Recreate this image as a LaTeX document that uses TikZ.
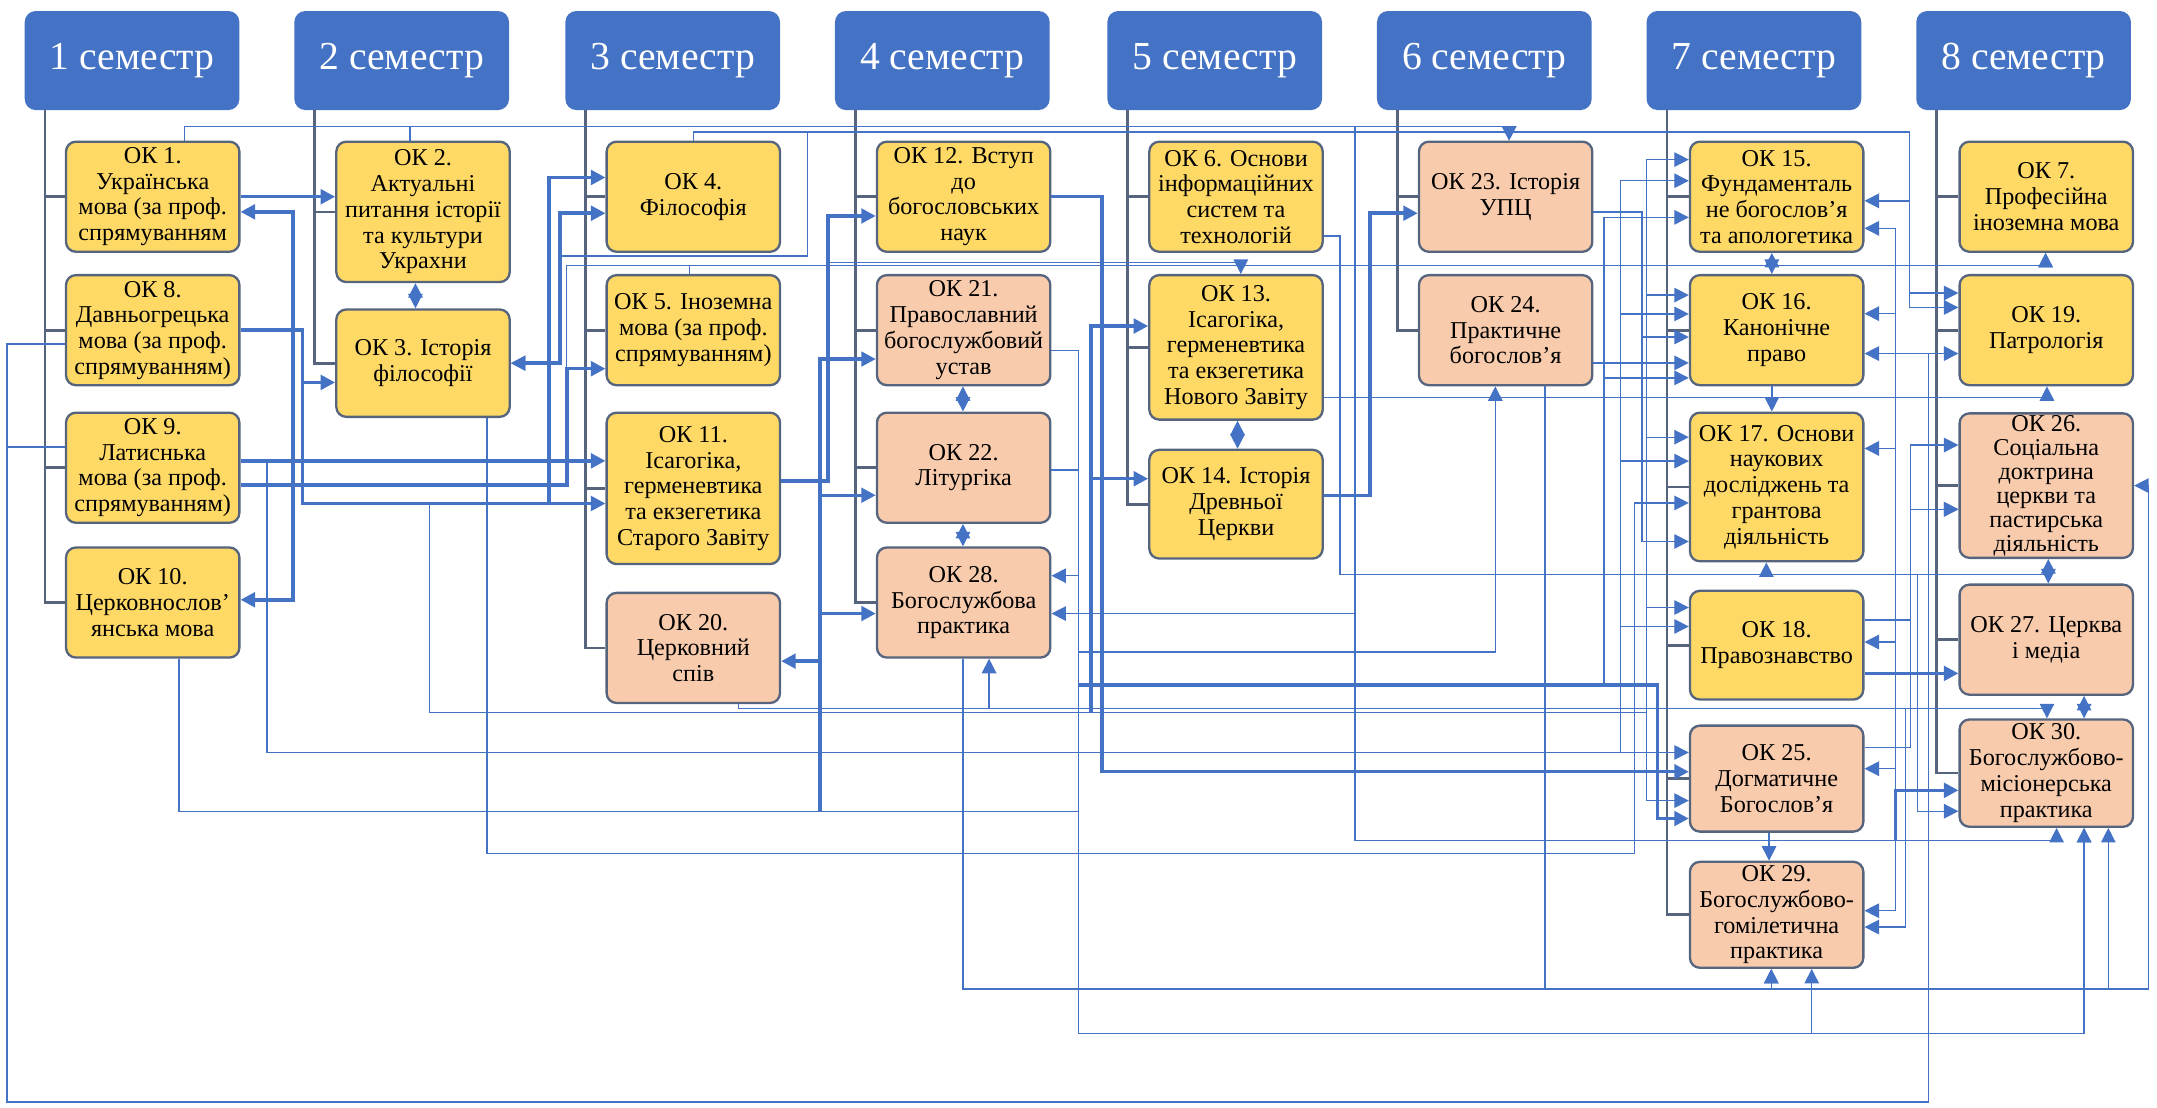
\documentclass[tikz,border=0pt]{standalone}
\usepackage{fontspec}
\setmainfont{Liberation Serif}
\usetikzlibrary{arrows.meta}
\definecolor{semblue}{HTML}{4472C4}
\definecolor{okyellow}{HTML}{FFD966}
\definecolor{okpeach}{HTML}{F8CBAD}
\definecolor{okframe}{HTML}{56647E}
\definecolor{linkblue}{HTML}{4472C4}
\begin{document}
\begin{tikzpicture}[x=0.025cm,y=-0.025cm]
    \tikzstyle{sem}=[rectangle, rounded corners=0.2cm, fill=semblue, minimum width=3.9cm, minimum height=1.8cm, text=white, font=\fontsize{20.5}{24}\selectfont]
    \tikzstyle{course}=[rectangle, rounded corners=0.18cm, draw=okframe, line width=1.2pt, minimum width=3.15cm, minimum height=2cm, inner sep=1pt, align=center, text=black, font=\fontsize{12.5}{13.3}\selectfont]
    \tikzstyle{core}=[course, fill=okyellow]
    \tikzstyle{prac}=[course, fill=okpeach]
    \tikzstyle{tree}=[draw=okframe, line width=1.4pt]
    \tikzstyle{wire}=[draw=linkblue, line width=0.7pt]
    \tikzstyle{link}=[wire, -{Triangle[length=7.5pt,width=7.5pt]}]
    \tikzstyle{heavy}=[link, line width=1.8pt]
    \tikzstyle{both}=[wire, {Triangle[length=7.5pt,width=7.5pt]}-{Triangle[length=7.5pt,width=7.5pt]}]

    \useasboundingbox (0,0) rectangle (1568,805);

    \node[sem] (s1) at (96,44) {1 семестр};
    \node[sem] (s2) at (292,44) {2 семестр};
    \node[sem] (s3) at (489,44) {3 семестр};
    \node[sem] (s4) at (685,44) {4 семестр};
    \node[sem] (s5) at (883,44) {5 семестр};
    \node[sem] (s6) at (1079,44) {6 семестр};
    \node[sem] (s7) at (1275,44) {7 семестр};
    \node[sem] (s8) at (1471,44) {8 семестр};

    \node[core] (ok1) at (111,143) {ОК 1.\\Українська\\мова (за проф.\\спрямуванням};
    \node[core] (ok8) at (111,240) {ОК 8.\\Давньогрецька\\мова (за проф.\\спрямуванням)};
    \node[core] (ok9) at (111,340) {ОК 9.\\Латиснька\\мова (за проф.\\спрямуванням)};
    \node[core] (ok10) at (111,438) {ОК 10.\\Церковнослов’\\янська мова};

    \node[core, minimum height=2.55cm] (ok2) at (307.5,154) {ОК 2.\\Актуальні\\питання історії\\та культури\\Украхни};
    \node[core, minimum height=1.95cm] (ok3) at (307.5,264) {ОК 3. Історія\\філософії};

    \node[core] (ok4) at (504,143) {ОК 4.\\Філософія};
    \node[core] (ok5) at (504,240) {ОК 5. Іноземна\\мова (за проф.\\спрямуванням)};
    \node[core, minimum height=2.75cm] (ok11) at (504,355) {ОК 11.\\Ісагогіка,\\герменевтика\\та екзегетика\\Старого Завіту};
    \node[prac] (ok20) at (504,471) {ОК 20.\\Церковний\\спів};

    \node[core] (ok12) at (700.5,143) {ОК 12. Вступ\\до\\богословських\\наук};
    \node[prac] (ok21) at (700.5,240) {ОК 21.\\Православний\\богослужбовий\\устав};
    \node[prac] (ok22) at (700.5,340) {ОК 22.\\Літургіка};
    \node[prac] (ok28) at (700.5,438) {ОК 28.\\Богослужбова\\практика};

    \node[core] (ok6) at (898.5,143) {ОК 6. Основи\\інформаційних\\систем та\\технологій};
    \node[core, minimum height=2.625cm] (ok13) at (898.5,252.5) {ОК 13.\\Ісагогіка,\\герменевтика\\та екзегетика\\Нового Завіту};
    \node[core, minimum height=1.975cm] (ok14) at (898.5,366.5) {ОК 14. Історія\\Древньої\\Церкви};

    \node[prac] (ok23) at (1094.5,143) {ОК 23. Історія\\УПЦ};
    \node[prac] (ok24) at (1094.5,240) {ОК 24.\\Практичне\\богослов'я};

    \node[core] (ok15) at (1291.5,143) {ОК 15.\\Фундаменталь\\не богослов'я\\та апологетика};
    \node[core] (ok16) at (1291.5,240) {ОК 16.\\Канонічне\\право};
    \node[core, minimum height=2.7cm] (ok17) at (1291.5,354) {ОК 17. Основи\\наукових\\досліджень та\\грантова\\діяльність};
    \node[core, minimum height=1.975cm] (ok18) at (1291.5,469) {ОК 18.\\Правознавство};
    \node[prac, minimum height=1.925cm] (ok25) at (1291.5,566) {ОК 25.\\Догматичне\\Богослов'я};
    \node[prac, minimum height=1.925cm] (ok29) at (1291.5,665) {ОК 29.\\Богослужбово-\\гомілетична\\практика};

    \node[core] (ok7) at (1487.5,143) {ОК 7.\\Професійна\\іноземна мова};
    \node[core] (ok19) at (1487.5,240) {ОК 19.\\Патрологія};
    \node[prac, minimum height=2.625cm, font=\fontsize{12.5}{12.4}\selectfont] (ok26) at (1487.5,353) {ОК 26.\\Соціальна\\доктрина\\церкви та\\пастирська\\діяльність};
    \node[prac] (ok27) at (1487.5,465) {ОК 27. Церква\\і медіа};
    \node[prac, minimum height=1.95cm] (ok30) at (1487.5,562) {ОК 30.\\Богослужбово-\\місіонерська\\практика};

    \foreach \s/\c in {s1/ok1, s1/ok8, s1/ok9, s1/ok10, s2/ok2, s2/ok3, s3/ok4, s3/ok5, s3/ok11, s3/ok20,
                       s4/ok12, s4/ok21, s4/ok22, s4/ok28, s5/ok6, s5/ok13, s5/ok14, s6/ok23, s6/ok24,
                       s7/ok15, s7/ok16, s7/ok17, s7/ok18, s7/ok25, s7/ok29, s8/ok7, s8/ok19, s8/ok26, s8/ok27, s8/ok30}
        \draw[tree] ([xshift=0.375cm]\s.south west) |- (\c.west);

    \coordinate (jr3) at (1378,611);
    \coordinate (jnt) at (793,518);
    \coordinate (jgr) at (1197,518);
    \coordinate (jlat) at (1178,547);
    \coordinate (jslav) at (596,590);
    \coordinate (jlit) at (784,498);

    \draw[link] (ok1.north-|134,0) |- (1097,92) -- (ok23.north-|1097,0);
    \draw[link] (ok2.north-|298,0) |- (1097,92) -- (ok23.north-|1097,0);
    \draw[link] (ok1.north-|134,0) |- (985,92) |- (ok28.east|-0,446);
    \draw[link] (ok1.north-|134,0) |- (985,92) |- (1495,611) -- (ok30.south-|1495,0);
    \foreach \t/\y in {ok15/166, ok16/228, ok17/326, ok18/466.7, ok25/558.8, ok29/662}
        \draw[link] (jr3) |- (\t.east|-0,\y);
    \draw[heavy] (jr3) |- (ok30.west|-0,574.5);

    \draw[heavy] (ok1.east) -- (ok2.west|-ok1.east);
    \draw[both, line width=1.8pt] (ok1.east|-0,154) -| (213,436) -- (ok10.east|-0,436);
    \draw[both] (ok2.south-|302,0) -- (ok3.north-|302,0);

    \draw[link] (ok4.north) |- (1388,96) |- (ok15.east|-0,146);
    \draw[link] (ok4.north) |- (1388,96) |- (ok19.west|-0,213);
    \draw[link] (ok4.north) |- (1388,96) |- (ok19.west|-0,223.5);
    \draw[link] (ok4.north) |- (587,96) |- (407,186) |- (ok3.east|-0,264);
    \draw[both, line width=1.8pt] (ok3.east|-0,264) -| (407,155) -- (ok4.west|-0,155);

    \draw[heavy] (ok8.east) -| (220,278) -- (ok3.west|-0,278);
    \draw[heavy] (ok8.east) -| (220,366) -- (ok11.west|-0,366);
    \draw[heavy] (ok8.east) -| (220,366) -| (399,129) -- (ok4.west|-0,129);
    \draw[wire] (ok8.east) -| (220,366) -| (312,518) -- (jnt);
    \draw[heavy] (jnt) |- (ok13.west|-0,237);
    \draw[heavy] (jnt) |- (ok14.west|-0,348);
    \draw[link] (jnt) -| (1197,116) -- (ok15.west|-0,116);
    \foreach \t/\y in {ok16/214.5, ok17/317.8, ok18/441.6, ok25/582}
        \draw[link] (jgr) |- (\t.west|-0,\y);
    \draw[link] (ok8.west|-0,250) -| (5,801) -| (1402,257) -- (ok19.west|-0,257);
    \draw[link] (ok8.west|-0,250) -| (5,801) -| (1402,257) -- (ok16.east|-0,257);
    \draw[wire] (ok9.west|-0,325) -| (5,801);

    \draw[heavy] (ok9.east|-0,335) -- (ok11.west|-0,335);
    \draw[heavy] (ok9.east|-0,352.6) -| (412,268) -- (ok5.west|-0,268);
    \draw[link] (ok9.east|-0,352.6) -| (412,193) -| (ok7.south-|1487,0);
    \draw[link] (ok5.north-|501,0) |- (1487,193) -- (ok7.south-|1487,0);
    \draw[link] (ok9.east|-0,335) -| (194,547) -- (ok25.west|-0,547);
    \foreach \t/\y in {ok15/131.4, ok16/228.2, ok17/335.2, ok18/455.4}
        \draw[link] (jlat) |- (\t.west|-0,\y);

    \draw[link] (ok10.south-|130,0) |- (784,590) |- (1515,751.5) -- (ok30.south-|1515,0);
    \foreach \t/\y in {ok21/261, ok22/360, ok28/446}
        \draw[heavy] (jslav) |- (\t.west|-0,\y);
    \draw[heavy] (jslav) |- (ok20.east|-0,480.6);

    \draw[link] (ok21.east|-0,254.7) -| (784,751.5) -| (ok29.south-|1317,0);
    \draw[link] (ok22.east|-0,341.7) -| (784,751.5) -| (ok30.south-|1515,0);
    \draw[link] (ok21.east|-0,254.7) -| (784,418.5) -- (ok28.east|-0,418.5);
    \draw[link] (ok22.east|-0,341.7) -| (784,474) -| (ok24.south-|1087,0);
    \draw[heavy] (jlit) -| (1205,595) -- (ok25.west|-0,595);
    \draw[link] (jlit) -| (1166,158) -- (ok15.west|-0,158);
    \draw[link] (jlit) -| (1166,274.7) -- (ok16.west|-0,274.7);

    \draw[heavy] (ok11.east|-0,349.5) -| (602,157) -- (ok12.west|-0,157);
    \draw[link] (ok11.east|-0,349.5) -| (602,191) -| (ok13.north-|902,0);
    \draw[heavy] (ok12.east) -| (801,561) -- (ok25.west|-0,561);

    \draw[link] (ok6.east|-0,171.6) -| (974,417.4) -| (ok17.south-|1284,0);
    \draw[wire] (ok6.east|-0,171.6) -| (974,417.4) -| (ok27.north-|1489,0);
    \draw[link] (ok6.east|-0,171.6) -| (974,417.4) -| (1394,589.7) -- (ok30.west|-0,589.7);

    \draw[link] (ok13.east|-0,289) -| (ok19.south-|1488,0);
    \draw[both] (ok13.south-|899.6,0) -- (ok14.north-|899.6,0);
    \draw[heavy] (ok14.east|-0,360) -| (996,155) -- (ok23.west|-0,155);

    \draw[link] (ok23.east|-0,154) -| (1193.5,393.6) -- (ok17.west|-0,393.6);
    \draw[link] (ok23.east|-0,154) -| (1193.5,245) -- (ok16.west|-0,245);
    \draw[link] (ok24.east|-0,263.8) -- (ok16.west|-0,263.8);
    \draw[link] (ok24.south-|1123,0) |- (1561.7,719) |- (ok26.east|-0,353);
    \draw[link] (ok24.south-|1123,0) |- (1287.6,719) -- (ok29.south-|1287.6,0);
    \draw[link] (ok24.south-|1123,0) |- (1532.6,719) -- (ok30.south-|1532.6,0);
    \draw[link] (ok28.south-|700,0) |- (1287.6,719) -- (ok29.south-|1287.6,0);

    \draw[link] (ok20.south-|537,0) |- (719,515) -- (ok28.south-|719,0);
    \draw[link] (ok20.south-|537,0) |- (1488,515) -- (ok30.north-|1488,0);
    \draw[link] (ok20.south-|537,0) |- (1385,515) |- (ok29.east|-0,673.9);

    \draw[link] (ok3.south-|354,0) |- (1188,620.6) |- (ok17.west|-0,365.6);

    \draw[heavy] (ok18.east|-0,489.5) -- (ok27.west|-0,489.5);
    \draw[link] (ok18.east|-0,450.7) -| (1388.6,323.5) -- (ok26.west|-0,323.5);
    \draw[link] (ok18.east|-0,450.7) -| (1388.6,370.2) -- (ok26.west|-0,370.2);
    \draw[link] (ok25.east|-0,543.3) -| (1388.6,370.2) -- (ok26.west|-0,370.2);

    \draw[both] (ok21.south-|700,0) -- (ok22.north-|700,0);
    \draw[both] (ok22.south-|700,0) -- (ok28.north-|700,0);
    \draw[both] (ok15.south-|1288,0) -- (ok16.north-|1288,0);
    \draw[link] (ok16.south-|1288,0) -- (ok17.north-|1288,0);
    \draw[link] (ok25.south-|1286,0) -- (ok29.north-|1286,0);
    \draw[both] (ok26.south-|1489,0) -- (ok27.north-|1489,0);
    \draw[both] (ok27.south-|1515,0) -- (ok30.north-|1515,0);
\end{tikzpicture}
\end{document}
